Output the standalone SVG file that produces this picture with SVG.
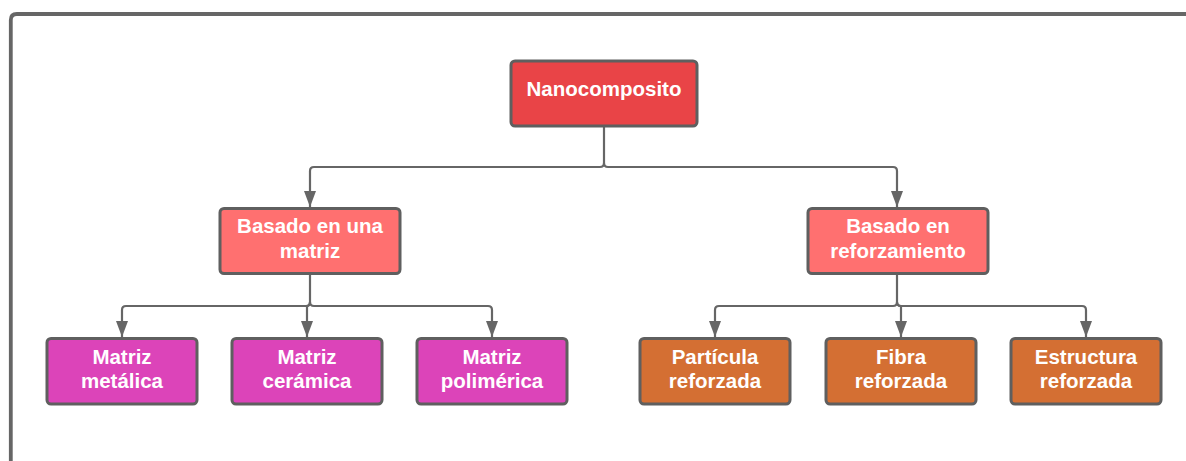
<svg xmlns="http://www.w3.org/2000/svg" width="1186" height="461" viewBox="0 0 1186 461">
  <defs>
    <style>
      .box { stroke: #5f5f5f; stroke-width: 3; }
      .root { fill: #e94447; }
      .mid { fill: #ff7070; }
      .mat { fill: #dc44b9; }
      .ref { fill: #d46f33; }
      .lbl { font-family: "Liberation Sans", Arial, sans-serif; font-weight: bold; font-size: 20.5px; fill: #ffffff; text-anchor: middle; }
      .wire { fill: none; stroke: #666666; stroke-width: 2.2; marker-end: url(#arrow); }
      .trunk { fill: none; stroke: #666666; stroke-width: 2.2; }
    </style>
    <marker id="arrow" viewBox="0 0 16 12" refX="16" refY="6" markerWidth="16" markerHeight="12" markerUnits="userSpaceOnUse" orient="auto">
      <path d="M0,0 L16,6 L0,12 z" fill="#666666"/>
    </marker>
  </defs>

  <rect width="1186" height="461" fill="#ffffff"/>

  <!-- outer frame -->
  <path d="M10.8,470 V20 Q10.8,14 16.8,14 H1200" fill="none" stroke="#666666" stroke-width="3.8"/>

  <!-- connectors -->
  <g id="connectors">
    <path class="trunk" d="M604,126 V163"/>
    <path class="wire" d="M604,163 Q604,167 600,167 H314 Q310,167 310,171 V207"/>
    <path class="wire" d="M604,163 Q604,167 608,167 H893 Q897,167 897,171 V207"/>

    <path class="trunk" d="M310,273 V302"/>
    <path class="wire" d="M310,302 Q310,306 306,306 H126 Q122,306 122,310 V337"/>
    <path class="wire" d="M310,302 Q310,306 307,306 V337"/>
    <path class="wire" d="M310,302 Q310,306 314,306 H488 Q492,306 492,310 V337"/>

    <path class="trunk" d="M897,273 V302"/>
    <path class="wire" d="M897,302 Q897,306 893,306 H719 Q715,306 715,310 V337"/>
    <path class="wire" d="M897,302 Q897,306 901,306 V337"/>
    <path class="wire" d="M897,302 Q897,306 901,306 H1082 Q1086,306 1086,310 V337"/>
  </g>

  <g id="nanocomposito">
    <rect class="box root" x="511" y="61" width="186" height="65" rx="4"/>
    <text class="lbl" x="604" y="96">Nanocomposito</text>
  </g>

  <g id="basado-matriz">
    <rect class="box mid" x="220" y="208.5" width="180" height="65" rx="4"/>
    <text class="lbl" x="310" y="233">Basado en una</text>
    <text class="lbl" x="310" y="257.5">matriz</text>
  </g>

  <g id="basado-reforzamiento">
    <rect class="box mid" x="808" y="208.5" width="180" height="65" rx="4"/>
    <text class="lbl" x="898" y="233">Basado en</text>
    <text class="lbl" x="898" y="257.5">reforzamiento</text>
  </g>

  <g id="matriz-metalica">
    <rect class="box mat" x="47" y="338.5" width="150" height="65.5" rx="4"/>
    <text class="lbl" x="122" y="363.5">Matriz</text>
    <text class="lbl" x="122" y="388">metálica</text>
  </g>

  <g id="matriz-ceramica">
    <rect class="box mat" x="232" y="338.5" width="150" height="65.5" rx="4"/>
    <text class="lbl" x="307" y="363.5">Matriz</text>
    <text class="lbl" x="307" y="388">cerámica</text>
  </g>

  <g id="matriz-polimerica">
    <rect class="box mat" x="417" y="338.5" width="150" height="65.5" rx="4"/>
    <text class="lbl" x="492" y="363.5">Matriz</text>
    <text class="lbl" x="492" y="388">polimérica</text>
  </g>

  <g id="particula-reforzada">
    <rect class="box ref" x="640" y="338.5" width="150" height="65.5" rx="4"/>
    <text class="lbl" x="715" y="363.5">Partícula</text>
    <text class="lbl" x="715" y="388">reforzada</text>
  </g>

  <g id="fibra-reforzada">
    <rect class="box ref" x="826" y="338.5" width="150" height="65.5" rx="4"/>
    <text class="lbl" x="901" y="363.5">Fibra</text>
    <text class="lbl" x="901" y="388">reforzada</text>
  </g>

  <g id="estructura-reforzada">
    <rect class="box ref" x="1011" y="338.5" width="150" height="65.5" rx="4"/>
    <text class="lbl" x="1086" y="363.5">Estructura</text>
    <text class="lbl" x="1086" y="388">reforzada</text>
  </g>
</svg>
